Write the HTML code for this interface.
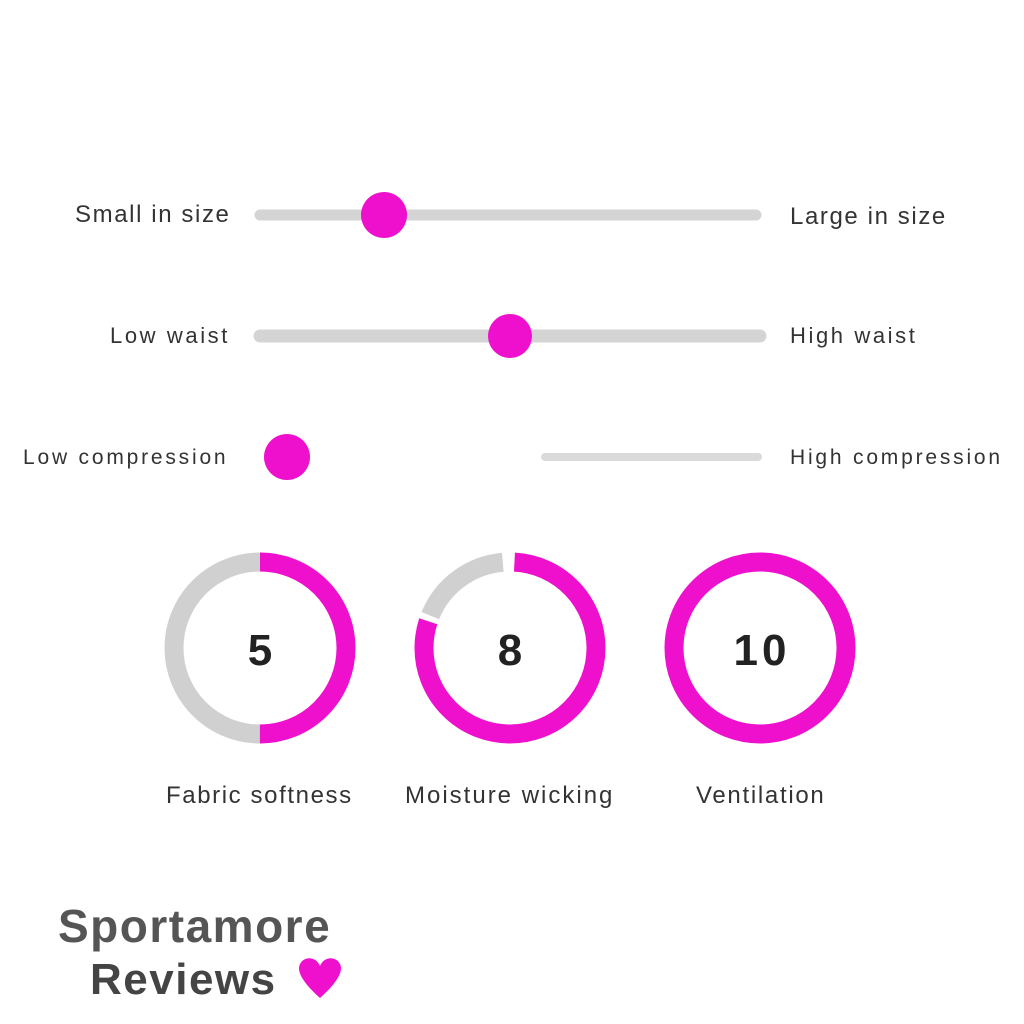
<!DOCTYPE html>
<html><head><meta charset="utf-8"><style>
html,body{margin:0;padding:0;background:#fff;}
body{width:1024px;height:1024px;position:relative;overflow:hidden;font-family:"Liberation Sans",sans-serif;}
.t{position:absolute;color:#333;font-size:24px;white-space:nowrap;line-height:1;}
</style></head><body>
<svg width="1024" height="1024" style="position:absolute;left:0;top:0">
<g stroke-linecap="round">
<line x1="260" y1="215" x2="756" y2="215" stroke="#d4d4d4" stroke-width="11"/>
<line x1="260" y1="336" x2="760" y2="336" stroke="#d4d4d4" stroke-width="13"/>
<line x1="545" y1="457" x2="758" y2="457" stroke="#dadada" stroke-width="8"/>
</g>
<circle cx="384" cy="215" r="23" fill="#ee10cc"/>
<circle cx="510" cy="336" r="22" fill="#ee10cc"/>
<circle cx="287" cy="457" r="23" fill="#ee10cc"/>
<g fill="none" stroke-width="19">
<g transform="rotate(-90 260 648)">
<circle cx="260" cy="648" r="86" stroke="#d0d0d0" stroke-dasharray="270.2 540.4" stroke-dashoffset="-270.2"/>
<circle cx="260" cy="648" r="86" stroke="#ee10cc" stroke-dasharray="270.2 540.4"/>
</g>
<g transform="rotate(-90 510 648)">
<circle cx="510" cy="648" r="86" stroke="#d0d0d0" stroke-dasharray="94.6 540.4" stroke-dashoffset="-438.3"/>
<circle cx="510" cy="648" r="86" stroke="#ee10cc" stroke-dasharray="427.8 540.4" stroke-dashoffset="-4.5"/>
</g>
<circle cx="760" cy="648" r="86" stroke="#ee10cc"/>
</g>
<text x="260" y="665" text-anchor="middle" font-family="Liberation Sans" font-weight="bold" font-size="44" fill="#222">5</text>
<text x="510" y="665" text-anchor="middle" font-family="Liberation Sans" font-weight="bold" font-size="44" fill="#222">8</text>
<text x="762" y="665" text-anchor="middle" font-family="Liberation Sans" font-weight="bold" font-size="44" fill="#222" letter-spacing="4">10</text>
<path d="M320 998 C300 980 297 970 300 964 C304 956 316 956 320 966 C324 956 336 956 340 964 C343 970 340 980 320 998Z" fill="#ee10cc"/>
</svg>
<div class="t" style="left:75px;top:203px;letter-spacing:1.6px">Small in size</div>
<div class="t" style="left:790px;top:205px;letter-spacing:1.6px">Large in size</div>
<div class="t" style="left:110px;top:325px;font-size:22px;letter-spacing:2.6px">Low waist</div>
<div class="t" style="left:790px;top:325px;font-size:22px;letter-spacing:2.6px">High waist</div>
<div class="t" style="left:23px;top:447px;font-size:21px;letter-spacing:2.8px">Low compression</div>
<div class="t" style="left:790px;top:447px;font-size:21px;letter-spacing:2.8px">High compression</div>
<div class="t" style="left:166px;top:784px;letter-spacing:1.6px">Fabric softness</div>
<div class="t" style="left:405px;top:784px;letter-spacing:2px">Moisture wicking</div>
<div class="t" style="left:696px;top:784px;letter-spacing:1.7px">Ventilation</div>
<div class="t" style="left:58px;top:903px;font-size:46px;font-weight:bold;color:#555;letter-spacing:1.5px">Sportamore</div>
<div class="t" style="left:90px;top:958px;font-size:44px;font-weight:bold;color:#444;letter-spacing:1.5px">Reviews</div>
</body></html>
